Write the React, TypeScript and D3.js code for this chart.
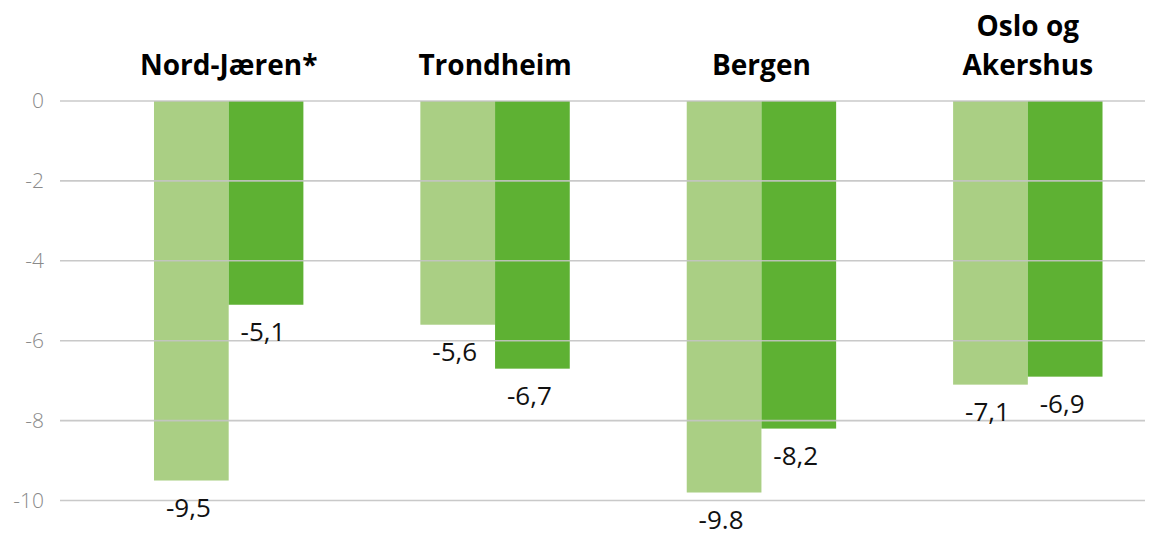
import React from "react";
import * as d3 from "d3";

const categories = ["Nord-Jæren*", "Trondheim", "Bergen", "Oslo og Akershus"];
const titleLines = [["Nord-Jæren*"], ["Trondheim"], ["Bergen"], ["Oslo og", "Akershus"]];
const seriesKeys = ["a", "b"];
const seriesA = [-9.5, -5.6, -9.8, -7.1];
const seriesB = [-5.1, -6.7, -8.2, -6.9];
const labelsA = ["-9,5", "-5,6", "-9.8", "-7,1"];
const labelsB = ["-5,1", "-6,7", "-8,2", "-6,9"];
const yTicks = [0, -2, -4, -6, -8, -10];
const colors = ["#aacf84", "#5eb133"];

const W = 1165;
const H = 533;

export default function App() {
  const y = d3.scaleLinear().domain([0, -10]).range([101, 500.5]);
  const x0 = d3.scaleBand<string>().domain(categories).range([95.5, 1161]).padding(0);
  const x1 = d3.scaleBand<string>().domain(seriesKeys).range([-74.7, 74.7]).padding(0);
  const series = [
    { key: "a", values: seriesA, labels: labelsA },
    { key: "b", values: seriesB, labels: labelsB },
  ];
  const gridX0 = 60;
  const gridX1 = 1145;
  const center = (c: string) => (x0(c) ?? 0) + x0.bandwidth() / 2;

  return (
    <svg
      width={W}
      height={H}
      style={{ position: "absolute", left: 0, top: 0, background: "#fff" }}
    >
      {series.map((s, si) =>
        categories.map((c, i) => {
          const bx = center(c) + (x1(s.key) ?? 0);
          const v = s.values[i];
          return (
            <rect
              key={s.key + c}
              x={bx}
              y={y(0)}
              width={x1.bandwidth()}
              height={y(v) - y(0)}
              fill={colors[si]}
            />
          );
        })
      )}
      {yTicks.map((t) => (
        <g key={t}>
          <line x1={gridX0} x2={gridX1} y1={y(t)} y2={y(t)} stroke="#c4c4c4" strokeWidth={1.6} opacity={0.9} />
          <text
            x={44}
            y={y(t)}
            dy="0.35em"
            textAnchor="end"
            fontFamily="Open Sans"
            fontWeight={300}
            fontSize={21}
            fill="#8a8a8a"
          >
            {t}
          </text>
        </g>
      ))}
      {series.map((s) =>
        categories.map((c, i) => {
          const bx = center(c) + (x1(s.key) ?? 0) + x1.bandwidth() / 2;
          return (
            <text
              key={"l" + s.key + c}
              x={bx - 3}
              y={y(s.values[i]) + 36}
              textAnchor="middle"
              fontFamily="Open Sans"
              fontSize={26}
              fill="#111"
            >
              {s.labels[i]}
            </text>
          );
        })
      )}
      {categories.map((c, i) => {
        const lines = titleLines[i];
        return (
          <text
            key={"t" + c}
            textAnchor="middle"
            fontFamily="Open Sans"
            fontWeight={700}
            fontSize={28}
            fill="#000"
          >
            {lines.map((ln, j) => (
              <tspan key={j} x={center(c)} y={75 - (lines.length - 1 - j) * 39}>
                {ln}
              </tspan>
            ))}
          </text>
        );
      })}
    </svg>
  );
}
